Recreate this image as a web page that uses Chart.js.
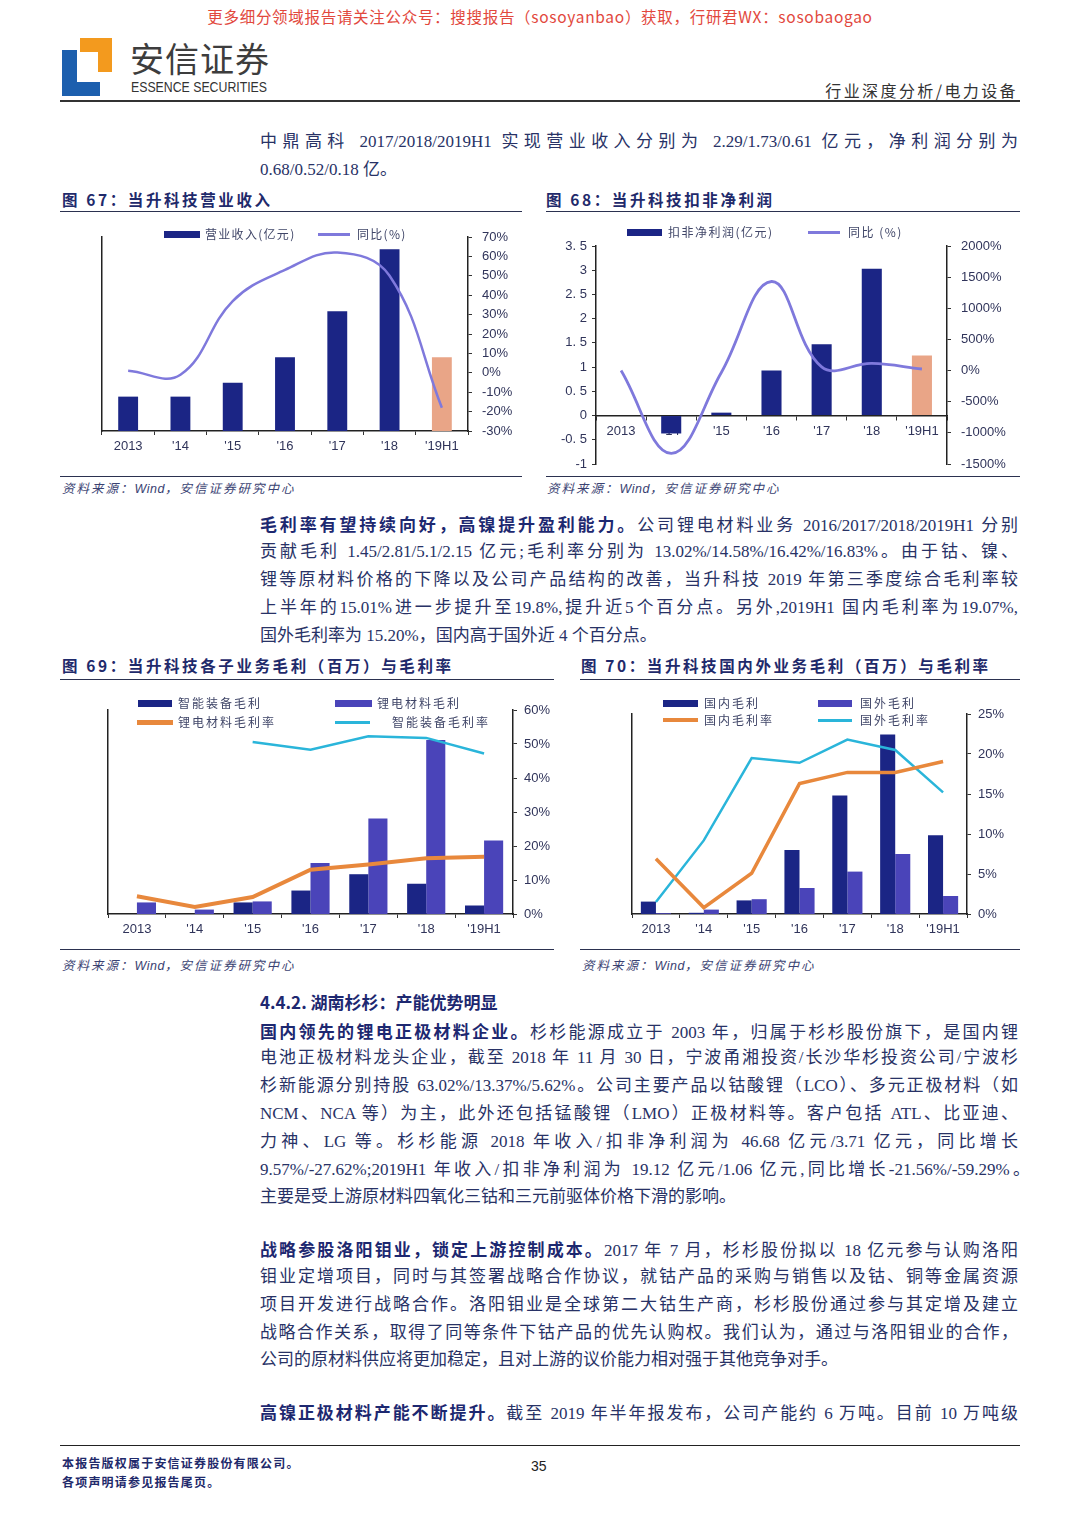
<!DOCTYPE html>
<html lang="zh-CN">
<head>
<meta charset="utf-8">
<title>当升科技 图67-图70</title>
<script src="https://cdn.jsdelivr.net/npm/chart.js@4.4.1/dist/chart.umd.min.js"></script>
<style>
  body { margin: 0; background: #fff; }
  #page { position: relative; width: 1080px; height: 1527px; overflow: hidden; background: #fff;
          font-family: "Liberation Serif", "Noto Sans CJK SC", serif; color: #283266; }
  .ln { position: absolute; left: 260px; width: 758px; height: 28px; line-height: 28px; font-size: 17px;
        white-space: nowrap; text-align: justify; text-align-last: justify; }
  .ln.end { text-align-last: left; }
  .ln b { color: #1d2870; font-family: "Noto Sans CJK SC"; font-weight: 700; }
  .figt { position: absolute; font-family: "Noto Sans CJK SC"; font-weight: 700; font-size: 15.5px;
          color: #1f2a6b; letter-spacing: 2.6px; line-height: 20px; white-space: nowrap; }
  .rule { position: absolute; height: 0; border-top: 1.5px solid #2b3150; }
  .src { position: absolute; font-family: "Noto Sans CJK SC"; font-style: italic; font-size: 12.5px;
         color: #3a4272; line-height: 16px; white-space: nowrap; letter-spacing: 2px; }
  .src span { font-family: "Liberation Sans"; letter-spacing: 0.5px; }
  .box { position: absolute; }
  .lg { position: absolute; font-family: "Noto Sans CJK SC"; font-size: 12px; color: #404668;
        line-height: 16px; white-space: nowrap; }
  .sw { position: absolute; }
</style>
</head>
<body>
<div id="page">
  <!-- 页眉 -->
  <div style="position:absolute;left:0;width:1080px;top:5px;text-align:center;font-family:'Noto Sans CJK SC';font-size:15.5px;color:#e2483d;line-height:22px;white-space:nowrap;letter-spacing:0.7px;">更多细分领域报告请关注公众号：搜搜报告（sosoyanbao）获取，行研君WX：sosobaogao</div>
  <svg style="position:absolute;left:0;top:0" width="120" height="100">
    <polygon points="80,38 112,38 112,72 98,72 98,52 80,52" fill="#f39a1e"/>
    <polygon points="62,50 77,50 77,82 100,82 100,96 62,96" fill="#1d5fae"/>
  </svg>
  <div style="position:absolute;left:130px;top:36px;font-family:'Noto Sans CJK SC';font-size:34px;line-height:44px;color:#3d3d3d;letter-spacing:1px;">安信证券</div>
  <div style="position:absolute;left:131px;top:79px;font-family:'Liberation Sans';font-size:15px;line-height:16px;color:#333;transform:scaleX(0.82);transform-origin:left center;white-space:nowrap;">ESSENCE SECURITIES</div>
  <div style="position:absolute;right:62px;top:80px;font-family:'Noto Sans CJK SC';font-size:16px;line-height:20px;color:#333;letter-spacing:2.4px;">行业深度分析/电力设备</div>
  <div class="rule" style="left:60px;width:960px;top:100px;border-top:2px solid #333;"></div>

  <!-- 段落一 -->
  <div class="ln" style="top:128px">中鼎高科 2017/2018/2019H1 实现营业收入分别为 2.29/1.73/0.61 亿元，净利润分别为</div>
  <div class="ln end" style="top:156px">0.68/0.52/0.18 亿。</div>

  <!-- 图67 / 图68 标题 -->
  <div class="figt" style="left:62px;top:189px">图 67：当升科技营业收入</div>
  <div class="figt" style="left:546px;top:189px">图 68：当升科技扣非净利润</div>
  <div class="rule" style="left:60px;width:462px;top:211px"></div>
  <div class="rule" style="left:546px;width:474px;top:211px"></div>

  <div class="box" id="b67"><canvas id="c67"></canvas></div>
  <div class="box" id="b68"><canvas id="c68"></canvas></div>

  <div class="rule" style="left:60px;width:462px;top:476px"></div>
  <div class="rule" style="left:546px;width:474px;top:476px"></div>
  <div class="src" style="left:62px;top:480px">资料来源：<span>Wind</span>，安信证券研究中心</div>
  <div class="src" style="left:547px;top:480px">资料来源：<span>Wind</span>，安信证券研究中心</div>

  <!-- 段落二 -->
  <div class="ln" style="top:510px"><b>毛利率有望持续向好，高镍提升盈利能力。</b>公司锂电材料业务 2016/2017/2018/2019H1 分别</div>
  <div class="ln" style="top:538px">贡献毛利 1.45/2.81/5.1/2.15 亿元;毛利率分别为 13.02%/14.58%/16.42%/16.83%。由于钴、镍、</div>
  <div class="ln" style="top:566px">锂等原材料价格的下降以及公司产品结构的改善，当升科技 2019 年第三季度综合毛利率较</div>
  <div class="ln" style="top:594px">上半年的15.01%进一步提升至19.8%,提升近5个百分点。另外,2019H1 国内毛利率为19.07%,</div>
  <div class="ln end" style="top:622px">国外毛利率为 15.20%，国内高于国外近 4 个百分点。</div>

  <!-- 图69 / 图70 标题 -->
  <div class="figt" style="left:62px;top:655px">图 69：当升科技各子业务毛利（百万）与毛利率</div>
  <div class="figt" style="left:581px;top:655px">图 70：当升科技国内外业务毛利（百万）与毛利率</div>
  <div class="rule" style="left:60px;width:494px;top:679px"></div>
  <div class="rule" style="left:580px;width:440px;top:679px"></div>

  <div class="box" id="b69"><canvas id="c69"></canvas></div>
  <div class="box" id="b70"><canvas id="c70"></canvas></div>

  <div class="rule" style="left:60px;width:494px;top:949px"></div>
  <div class="rule" style="left:580px;width:440px;top:949px"></div>
  <div class="src" style="left:62px;top:957px">资料来源：<span>Wind</span>，安信证券研究中心</div>
  <div class="src" style="left:582px;top:957px">资料来源：<span>Wind</span>，安信证券研究中心</div>

  <!-- 4.4.2 -->
  <div class="ln end" style="top:988px"><b>4.4.2. 湖南杉杉：产能优势明显</b></div>
  <div class="ln" style="top:1017px"><b>国内领先的锂电正极材料企业。</b>杉杉能源成立于 2003 年，归属于杉杉股份旗下，是国内锂</div>
  <div class="ln" style="top:1044px">电池正极材料龙头企业，截至 2018 年 11 月 30 日，宁波甬湘投资/长沙华杉投资公司/宁波杉</div>
  <div class="ln" style="top:1072px">杉新能源分别持股 63.02%/13.37%/5.62%。公司主要产品以钴酸锂（LCO）、多元正极材料（如</div>
  <div class="ln" style="top:1100px">NCM、NCA 等）为主，此外还包括锰酸锂（LMO）正极材料等。客户包括 ATL、比亚迪、</div>
  <div class="ln" style="top:1128px">力神、LG 等。杉杉能源 2018 年收入/扣非净利润为 46.68 亿元/3.71 亿元，同比增长</div>
  <div class="ln" style="top:1156px;width:770px">9.57%/-27.62%;2019H1 年收入/扣非净利润为 19.12 亿元/1.06 亿元,同比增长-21.56%/-59.29%。</div>
  <div class="ln end" style="top:1183px">主要是受上游原材料四氧化三钴和三元前驱体价格下滑的影响。</div>

  <div class="ln" style="top:1235px"><b>战略参股洛阳钼业，锁定上游控制成本。</b>2017 年 7 月，杉杉股份拟以 18 亿元参与认购洛阳</div>
  <div class="ln" style="top:1263px">钼业定增项目，同时与其签署战略合作协议，就钴产品的采购与销售以及钴、铜等金属资源</div>
  <div class="ln" style="top:1291px">项目开发进行战略合作。洛阳钼业是全球第二大钴生产商，杉杉股份通过参与其定增及建立</div>
  <div class="ln" style="top:1319px">战略合作关系，取得了同等条件下钴产品的优先认购权。我们认为，通过与洛阳钼业的合作，</div>
  <div class="ln end" style="top:1346px">公司的原材料供应将更加稳定，且对上游的议价能力相对强于其他竞争对手。</div>

  <div class="ln" style="top:1398px"><b>高镍正极材料产能不断提升。</b>截至 2019 年半年报发布，公司产能约 6 万吨。目前 10 万吨级</div>

  <!-- 页脚 -->
  <div class="rule" style="left:60px;width:960px;top:1445px;border-top:1.5px solid #222;"></div>
  <div style="position:absolute;left:62px;top:1455px;font-family:'Noto Sans CJK SC';font-weight:700;font-size:12px;line-height:16px;color:#1f2a6b;letter-spacing:1.2px;">本报告版权属于安信证券股份有限公司。</div>
  <div style="position:absolute;left:62px;top:1474px;font-family:'Noto Sans CJK SC';font-weight:700;font-size:12px;line-height:16px;color:#1f2a6b;letter-spacing:1.2px;">各项声明请参见报告尾页。</div>
  <div style="position:absolute;left:531px;top:1457px;font-family:'Liberation Sans';font-size:14px;line-height:18px;color:#222;">35</div>
</div>

<script>
// 类目
const years = ['2013', "'14", "'15", "'16", "'17", "'18", "'19H1"];

// 图67 营业收入
const names67 = ['营业收入(亿元)', '同比(%)'];
const revenue = [6.2, 6.2, 8.7, 13.3, 21.6, 32.8, 13.3];
const revenueYoy = [1, -1, 37, 53, 62, 50, -18];
const ticks67L = [0, 35, 5];
const ticks67R = [-30, 70, 10];

// 图68 扣非净利润
const names68 = ['扣非净利润(亿元)', '同比 (%)'];
const profit = [0, -0.37, 0.06, 0.93, 1.47, 3.03, 1.24];
const profitYoy = [0, -1330, -30, 1430, 60, 115, 25];
const ticks68L = [-1, 3.5, 0.5];
const ticks68R = [-1500, 2000, 500];

// 图69 各子业务毛利与毛利率
const names69 = ['智能装备毛利', '锂电材料毛利', '锂电材料毛利率', '智能装备毛利率'];
const equipGross = [0, 0, 34, 69, 117, 89, 25];
const batteryGross = [34, 13, 37, 150, 281, 512, 216];
const batteryMargin = [5.2, 2.1, 5.0, 13.02, 14.58, 16.42, 16.83];
const equipMargin = [null, null, 50.6, 48.3, 52.3, 51.8, 47.2];
const ticks69L = [0, 600, 100];
const ticks69R = [0, 60, 10];

// 图70 国内外毛利与毛利率
const names70 = ['国内毛利', '国外毛利', '国内毛利率', '国外毛利率'];
const domesticGross = [31, 3, 34, 160, 296, 449, 197];
const overseasGross = [2, 11, 37, 65, 106, 150, 45];
const domesticMargin = [6.9, 0.8, 5.1, 16.3, 17.7, 17.7, 19.07];
const overseasMargin = [1.5, 9.2, 19.5, 18.9, 21.8, 20.5, 15.2];
const ticks70L = [0, 500, 100];
const ticks70R = [0, 25, 5];

// 颜色
const NAVY = '#1b2585';
const PURPLE = '#4a44b9';
const SALMON = '#e9a587';
const LAVENDER = '#7f79dc';
const ORANGE = '#e8883c';
const CYAN = '#2ab5da';

Chart.defaults.font.family = '"Liberation Sans", Arial, sans-serif';
Chart.defaults.font.size = 13;
Chart.defaults.color = '#30345a';
Chart.defaults.animation = false;
Chart.defaults.plugins.legend.display = false;
Chart.defaults.plugins.tooltip.enabled = false;

const pct = v => v + '%';
const spaced = v => String(v).replace('.', '. ');

function yAxis(pos, width, t, pad, fmt) {
  return {
    position: pos,
    min: t[0], max: t[1],
    ticks: { stepSize: t[2], padding: pad, callback: fmt },
    grid: { drawOnChartArea: false, drawTicks: true, tickLength: 4, color: '#333' },
    border: { display: true, color: '#222', width: 1.5 },
    afterFit(s) { s.width = width; s.paddingTop = 0; s.paddingBottom = 0; }
  };
}

function xAxis(extra) {
  return Object.assign({
    ticks: { padding: 4, autoSkip: false, maxRotation: 0 },
    grid: { drawOnChartArea: false, drawTicks: true, tickLength: 4, color: '#333', offset: true },
    border: { display: true, color: '#222', width: 1.5 },
    afterFit(s) { s.height = 26; s.paddingLeft = 0; s.paddingRight = 0; }
  }, extra || {});
}

// box: [left, top, width, height], plot: [x0, y0, x1, y1] (页面坐标)
function makeChart(id, box, plot, bottomPad, datasets, pads, fmts, ticksL, ticksR, xExtra) {
  const wrap = document.getElementById('b' + id);
  wrap.style.left = box[0] + 'px';
  wrap.style.top = box[1] + 'px';
  const cv = document.getElementById('c' + id);
  cv.width = box[2];
  cv.height = box[3];
  return new Chart(cv, {
    type: 'bar',
    data: { labels: years, datasets: datasets },
    options: {
      responsive: false,
      layout: { padding: { left: 0, right: 0, top: plot[1] - box[1], bottom: bottomPad } },
      scales: {
        x: xAxis(xExtra),
        y: yAxis('left', plot[0] - box[0], ticksL, pads[0], fmts[0]),
        y1: yAxis('right', box[0] + box[2] - plot[2], ticksR, pads[1], fmts[1])
      }
    }
  });
}

function legend(items) {
  const page = document.getElementById('page');
  items.forEach(it => {
    const sw = document.createElement('div');
    sw.className = 'sw';
    sw.style.cssText = `left:${it.x}px;top:${it.y - it.h / 2}px;width:${it.w}px;height:${it.h}px;background:${it.c};`;
    page.appendChild(sw);
    const tx = document.createElement('div');
    tx.className = 'lg';
    tx.style.cssText = `left:${it.tx}px;top:${it.y - 8}px;letter-spacing:${it.ls}px;`;
    tx.textContent = it.t;
    page.appendChild(tx);
  });
}

function lineSet(label, data, color, width, tension) {
  return {
    type: 'line', label, data, yAxisID: 'y1',
    borderColor: color, backgroundColor: color, borderWidth: width,
    pointRadius: 0, tension: tension, order: 0, spanGaps: false
  };
}

// 图67
makeChart('67', [60, 222, 460, 246], [102, 237, 468, 431], 11, [
  lineSet(names67[1], revenueYoy, LAVENDER, 2.5, 0.4),
  {
    label: names67[0], data: revenue, yAxisID: 'y', order: 1,
    backgroundColor: revenue.map((v, i) => i === revenue.length - 1 ? SALMON : NAVY),
    categoryPercentage: 1, barPercentage: 0.38
  }
], [9, 10], [null, pct], ticks67L, ticks67R);

// 图68
makeChart('68', [545, 222, 475, 250], [596, 246, 947, 464], 8, [
  lineSet(names68[1], profitYoy, LAVENDER, 2.8, 0.4),
  {
    label: names68[0], data: profit, yAxisID: 'y', order: 1,
    backgroundColor: profit.map((v, i) => i === profit.length - 1 ? SALMON : NAVY),
    categoryPercentage: 1, barPercentage: 0.4
  }
], [5, 10], [spaced, pct], ticks68L, ticks68R, { position: { y: 0 } });

// 图69
makeChart('69', [60, 690, 495, 255], [108, 710, 513, 914], 5, [
  lineSet(names69[2], batteryMargin, ORANGE, 4, 0),
  lineSet(names69[3], equipMargin, CYAN, 2.5, 0),
  { label: names69[0], data: equipGross, yAxisID: 'y', order: 1, backgroundColor: NAVY,
    categoryPercentage: 0.66, barPercentage: 1 },
  { label: names69[1], data: batteryGross, yAxisID: 'y', order: 1, backgroundColor: PURPLE,
    categoryPercentage: 0.66, barPercentage: 1 }
], [9, 7], [null, pct], ticks69L, ticks69R);

// 图70
makeChart('70', [580, 690, 440, 255], [632, 714, 967, 914], 5, [
  lineSet(names70[2], domesticMargin, ORANGE, 3.5, 0),
  lineSet(names70[3], overseasMargin, CYAN, 2.5, 0),
  { label: names70[0], data: domesticGross, yAxisID: 'y', order: 1, backgroundColor: NAVY,
    categoryPercentage: 0.63, barPercentage: 1 },
  { label: names70[1], data: overseasGross, yAxisID: 'y', order: 1, backgroundColor: PURPLE,
    categoryPercentage: 0.63, barPercentage: 1 }
], [7, 7], [null, pct], ticks70L, ticks70R);

// 图例
legend([
  { x: 164, y: 234, w: 36, h: 7, c: NAVY, tx: 205, t: names67[0], ls: 1.3 },
  { x: 318, y: 234, w: 32, h: 3, c: LAVENDER, tx: 357, t: names67[1], ls: 1.3 },
  { x: 627, y: 232, w: 35, h: 7, c: NAVY, tx: 668, t: names68[0], ls: 1.5 },
  { x: 808, y: 232, w: 32, h: 3, c: LAVENDER, tx: 848, t: names68[1], ls: 1.5 },
  { x: 138, y: 703, w: 34, h: 7, c: NAVY, tx: 178, t: names69[0], ls: 2 },
  { x: 335, y: 703, w: 37, h: 7, c: PURPLE, tx: 377, t: names69[1], ls: 2 },
  { x: 137, y: 722, w: 36, h: 5, c: ORANGE, tx: 178, t: names69[2], ls: 2 },
  { x: 335, y: 722, w: 35, h: 3, c: CYAN, tx: 392, t: names69[3], ls: 2 },
  { x: 663, y: 703, w: 35, h: 7, c: NAVY, tx: 704, t: names70[0], ls: 2 },
  { x: 818, y: 703, w: 34, h: 7, c: PURPLE, tx: 860, t: names70[1], ls: 2 },
  { x: 663, y: 720, w: 35, h: 4, c: ORANGE, tx: 704, t: names70[2], ls: 2 },
  { x: 818, y: 720, w: 34, h: 3, c: CYAN, tx: 860, t: names70[3], ls: 2 }
]);
</script>
</body>
</html>
